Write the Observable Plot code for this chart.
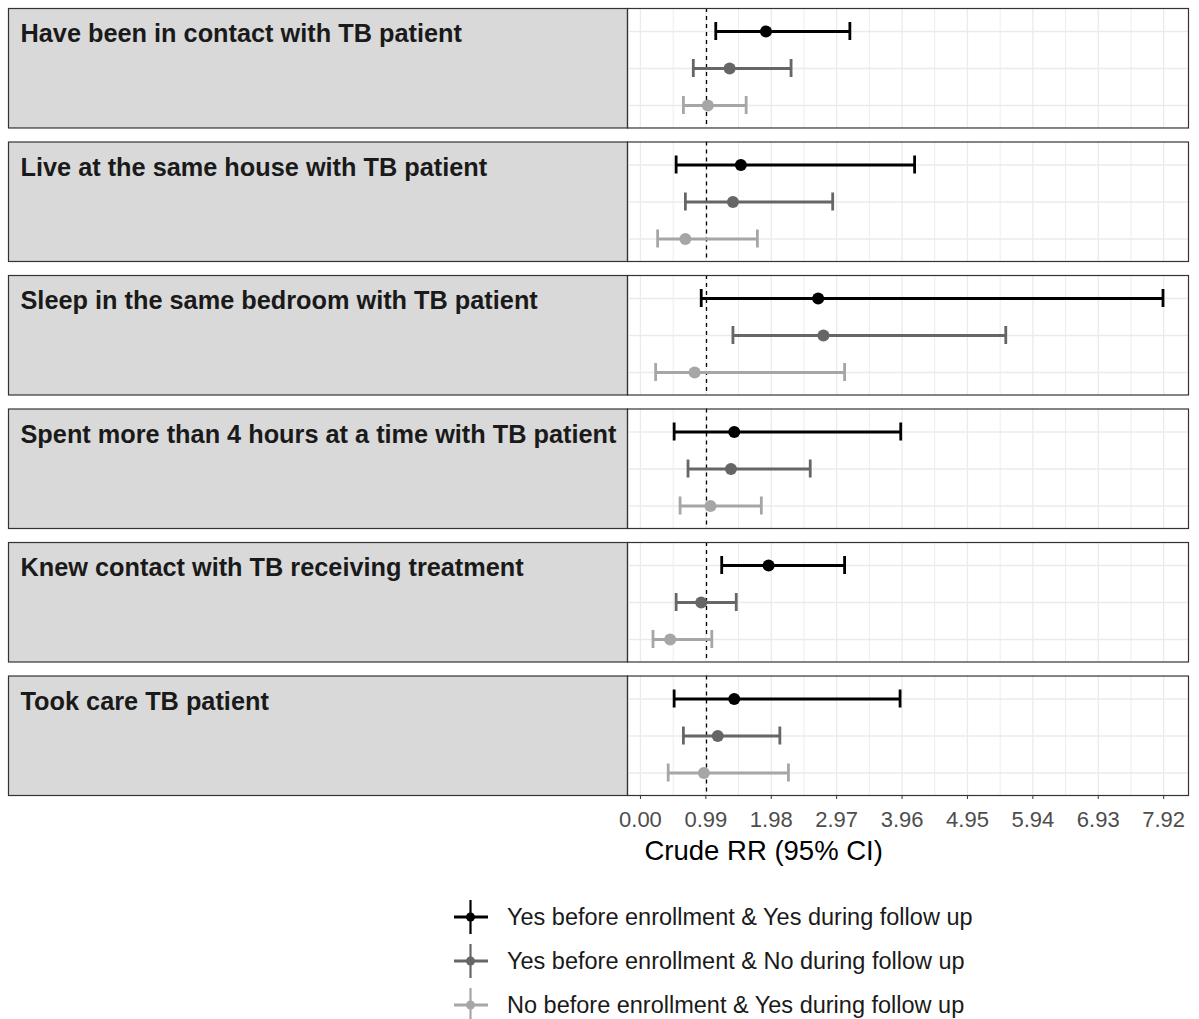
<!DOCTYPE html>
<html>
<head>
<meta charset="utf-8">
<script src="https://cdn.jsdelivr.net/npm/d3@7"></script>
<script src="https://cdn.jsdelivr.net/npm/@observablehq/plot@0.6"></script>
<style>
  body { margin: 0; background: #fff; font-family: "Liberation Sans", Arial, sans-serif; }
  #legend { padding-top: 23px; margin-left: 453px; }
  .lrow { display: flex; align-items: center; height: 44px; }
  .lrow svg { margin-right: 19px; }
  .lrow span { font-size: 23.5px; color: #1a1a1a; }
</style>
</head>
<body>
<div id="chart"></div>
<div id="legend"></div>
<script>
const questions = [
  "Have been in contact with TB patient",
  "Live at the same house with TB patient",
  "Sleep in the same bedroom with TB patient",
  "Spent more than 4 hours at a time with TB patient",
  "Knew contact with TB receiving treatment",
  "Took care TB patient"
];
const groups = [
  "Yes before enrollment & Yes during follow up",
  "Yes before enrollment & No during follow up",
  "No before enrollment & Yes during follow up"
];
const groupColors = ["#000000", "#666666", "#a6a6a6"];

// Crude RR and 95% CI per question, one array set per group
const rrYY   = [1.90, 1.52, 2.69, 1.42, 1.94, 1.42];
const lowYY  = [1.14, 0.54, 0.92, 0.51, 1.23, 0.51];
const highYY = [3.17, 4.15, 7.91, 3.94, 3.09, 3.93];

const rrYN   = [1.35, 1.40, 2.77, 1.37, 0.92, 1.17];
const lowYN  = [0.80, 0.68, 1.40, 0.72, 0.54, 0.65];
const highYN = [2.28, 2.91, 5.53, 2.57, 1.45, 2.11];

const rrNY   = [1.02, 0.68, 0.82, 1.06, 0.45, 0.96];
const lowNY  = [0.65, 0.26, 0.23, 0.60, 0.19, 0.42];
const highNY = [1.60, 1.77, 3.09, 1.83, 1.08, 2.24];

const xTicks = [0.00, 0.99, 1.98, 2.97, 3.96, 4.95, 5.94, 6.93, 7.92];
const xMinor = [0.495, 1.485, 2.475, 3.465, 4.455, 5.445, 6.435, 7.425];
const xLabel = "Crude RR (95% CI)";

const series = [[rrYY, lowYY, highYY], [rrYN, lowYN, highYN], [rrNY, lowNY, highNY]];
const data = [];
questions.forEach((q, i) => {
  groups.forEach((g, j) => {
    data.push({q, g, rr: series[j][0][i], low: series[j][1][i], high: series[j][2][i]});
  });
});

const lo = d3.min(data, d => d.low), hi = d3.max(data, d => d.high);
const pad = (hi - lo) * 0.05;

const W = 1199, H = 872;
const mL = 627, mR = 11, mT = 8, mB = 77;
const panelW = W - mL - mR;
const stripLeft = 8;

const chart = Plot.plot({
  width: W,
  height: H,
  marginLeft: mL,
  marginRight: mR,
  marginTop: mT,
  marginBottom: mB,
  style: {fontFamily: "'Liberation Sans', Arial, sans-serif", background: "#fff"},
  x: {domain: [lo - pad, hi + pad], axis: null},
  y: {type: "band", domain: groups, paddingInner: 0.52, paddingOuter: 0.36, axis: null},
  fy: {domain: questions, paddingInner: 0.105, paddingOuter: 0, axis: null, round: false},
  color: {domain: groups, range: groupColors},
  marks: [
    // strip (label panel) on the left
    Plot.frame({fill: "#d9d9d9", stroke: "#333333", strokeWidth: 1.2, insetLeft: -(mL - stripLeft), insetRight: panelW}),
    Plot.text(questions, {fy: d => d, text: d => d, frameAnchor: "top-left", dx: -(mL - stripLeft) + 12, dy: 16,
      lineAnchor: "top", textAnchor: "start", fontSize: 25.3, fontWeight: "bold", fill: "#1a1a1a"}),
    // grid
    Plot.ruleX(xMinor, {stroke: "#ededed", strokeWidth: 1}),
    Plot.ruleX(xTicks, {stroke: "#ebebeb", strokeWidth: 1.3}),
    Plot.ruleY(groups, {y: d => d, stroke: "#ebebeb", strokeWidth: 1.3}),
    // reference line
    Plot.ruleX([1], {stroke: "#000", strokeWidth: 1.3, strokeDasharray: "4,4"}),
    // error bars
    Plot.ruleY(data, {fy: "q", y: "g", x1: "low", x2: "high", stroke: "g", strokeWidth: 2.8}),
    Plot.tickX(data, {fy: "q", y: "g", x: "low", stroke: "g", strokeWidth: 2.8}),
    Plot.tickX(data, {fy: "q", y: "g", x: "high", stroke: "g", strokeWidth: 2.8}),
    Plot.dot(data, {fy: "q", y: "g", x: "rr", fill: "g", r: 6}),
    // panel border
    Plot.frame({stroke: "#333333", strokeWidth: 1.2}),
    // x axis
    Plot.axisX({ticks: xTicks, tickFormat: d => d.toFixed(2), tickSize: 4, tickPadding: 12,
      fontSize: 22, stroke: "#333333", fill: "#4d4d4d", label: null}),
    Plot.text([xLabel], {fy: () => questions[questions.length - 1], text: d => d, frameAnchor: "bottom-left",
      dx: 17, dy: 56, lineAnchor: "middle", textAnchor: "start", fontSize: 27.5, fill: "#000"})
  ]
});
document.getElementById("chart").appendChild(chart);

// legend
const leg = d3.select("#legend");
groups.forEach((g, j) => {
  const row = leg.append("div").attr("class", "lrow");
  const s = row.append("svg").attr("width", 35).attr("height", 36);
  s.append("line").attr("x1", 1).attr("x2", 35).attr("y1", 18).attr("y2", 18)
    .attr("stroke", groupColors[j]).attr("stroke-width", 3);
  s.append("line").attr("x1", 17.5).attr("x2", 17.5).attr("y1", 1).attr("y2", 35)
    .attr("stroke", groupColors[j]).attr("stroke-width", 2.2);
  s.append("circle").attr("cx", 17.5).attr("cy", 18).attr("r", 4.5).attr("fill", groupColors[j]);
  row.append("span").text(g);
});
</script>
</body>
</html>
